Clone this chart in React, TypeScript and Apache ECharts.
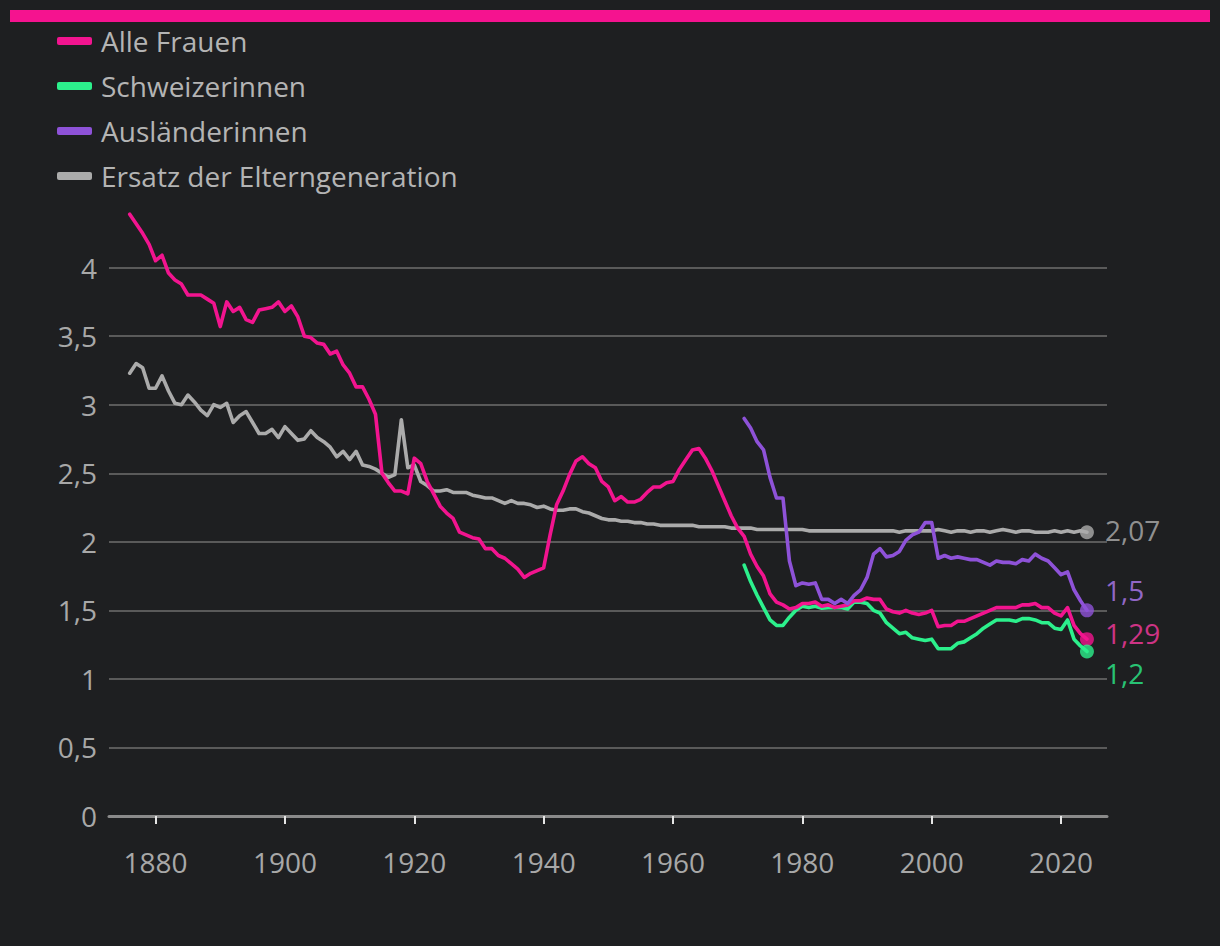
import React, { useEffect, useRef } from "react";
import * as echarts from "echarts";

const START_ALL = 1876;
const START_NAT = 1971;

const alleFrauen = [
  4.39, 4.32, 4.25, 4.17, 4.05, 4.09, 3.96, 3.91, 3.88, 3.8,
  3.8, 3.8, 3.77, 3.74, 3.57, 3.75, 3.68, 3.71, 3.62, 3.6,
  3.69, 3.7, 3.71, 3.75, 3.68, 3.72, 3.64, 3.5, 3.49, 3.45,
  3.44, 3.37, 3.39, 3.29, 3.23, 3.13, 3.13, 3.04, 2.93, 2.5,
  2.43, 2.37, 2.37, 2.35, 2.61, 2.57, 2.44, 2.35, 2.26, 2.21,
  2.17, 2.07, 2.05, 2.03, 2.02, 1.95, 1.95, 1.9, 1.88, 1.84,
  1.8, 1.74, 1.77, 1.79, 1.81, 2.05, 2.27, 2.37, 2.49, 2.59,
  2.62, 2.57, 2.54, 2.44, 2.4, 2.3, 2.33, 2.29, 2.29, 2.31,
  2.36, 2.4, 2.4, 2.43, 2.44, 2.53, 2.6, 2.67, 2.68, 2.61,
  2.52, 2.41, 2.3, 2.19, 2.1, 2.04, 1.91, 1.82, 1.75, 1.62,
  1.56, 1.54, 1.51, 1.52, 1.55, 1.55, 1.56, 1.53, 1.54, 1.52,
  1.53, 1.54, 1.57, 1.57, 1.59, 1.58, 1.58, 1.51, 1.49, 1.48,
  1.5, 1.48, 1.47, 1.48, 1.5, 1.38, 1.39, 1.39, 1.42, 1.42,
  1.44, 1.46, 1.48, 1.5, 1.52, 1.52, 1.52, 1.52, 1.54, 1.54,
  1.55, 1.52, 1.52, 1.48, 1.46, 1.52, 1.39, 1.33, 1.29,
];

const ersatzElterngeneration = [
  3.23, 3.3, 3.27, 3.12, 3.12, 3.21, 3.1, 3.01, 3.0, 3.07,
  3.02, 2.96, 2.92, 3.0, 2.98, 3.01, 2.87, 2.92, 2.95, 2.87,
  2.79, 2.79, 2.82, 2.76, 2.84, 2.79, 2.74, 2.75, 2.81, 2.76,
  2.73, 2.69, 2.62, 2.66, 2.6, 2.66, 2.56, 2.55, 2.53, 2.5,
  2.47, 2.49, 2.89, 2.54, 2.56, 2.44, 2.41, 2.37, 2.37, 2.38,
  2.36, 2.36, 2.36, 2.34, 2.33, 2.32, 2.32, 2.3, 2.28, 2.3,
  2.28, 2.28, 2.27, 2.25, 2.26, 2.24, 2.23, 2.23, 2.24, 2.24,
  2.22, 2.21, 2.19, 2.17, 2.16, 2.16, 2.15, 2.15, 2.14, 2.14,
  2.13, 2.13, 2.12, 2.12, 2.12, 2.12, 2.12, 2.12, 2.11, 2.11,
  2.11, 2.11, 2.11, 2.1, 2.1, 2.1, 2.1, 2.09, 2.09, 2.09,
  2.09, 2.09, 2.09, 2.09, 2.09, 2.08, 2.08, 2.08, 2.08, 2.08,
  2.08, 2.08, 2.08, 2.08, 2.08, 2.08, 2.08, 2.08, 2.08, 2.07,
  2.08, 2.08, 2.08, 2.08, 2.08, 2.09, 2.08, 2.07, 2.08, 2.08,
  2.07, 2.08, 2.08, 2.07, 2.08, 2.09, 2.08, 2.07, 2.08, 2.08,
  2.07, 2.07, 2.07, 2.08, 2.07, 2.08, 2.07, 2.08, 2.07,
];

const schweizerinnen = [
  1.83, 1.71, 1.61, 1.52, 1.43, 1.39, 1.39, 1.45, 1.5, 1.53,
  1.52, 1.53, 1.515, 1.52, 1.52, 1.52, 1.51, 1.56, 1.56, 1.55,
  1.5, 1.48, 1.41, 1.37, 1.33, 1.34, 1.3, 1.29, 1.28, 1.29,
  1.22, 1.22, 1.22, 1.26, 1.27, 1.3, 1.33, 1.37, 1.4, 1.43,
  1.43, 1.43, 1.42, 1.44, 1.44, 1.43, 1.41, 1.41, 1.37, 1.36,
  1.43, 1.29, 1.24, 1.2,
];

const auslaenderinnen = [
  2.9, 2.83, 2.73, 2.67, 2.47, 2.32, 2.32, 1.86, 1.68, 1.7,
  1.69, 1.7, 1.58, 1.58, 1.55, 1.58, 1.55, 1.61, 1.65, 1.74,
  1.91, 1.95, 1.89, 1.9, 1.93, 2.01, 2.05, 2.07, 2.14, 2.14,
  1.88, 1.9, 1.88, 1.89, 1.88, 1.87, 1.87, 1.85, 1.83, 1.86,
  1.85, 1.85, 1.84, 1.87, 1.86, 1.91, 1.88, 1.86, 1.81, 1.76,
  1.78, 1.65, 1.57, 1.5,
];

const xTicks = [1880, 1900, 1920, 1940, 1960, 1980, 2000, 2020];

const NAMES = ["Alle Frauen", "Schweizerinnen", "Ausländerinnen", "Ersatz der Elterngeneration"];
const COLORS = {
  pink: "#f2148f",
  green: "#2cf08c",
  purple: "#8e52d8",
  gray: "#ababab",
};
const LABEL_COLORS = {
  pink: "#ff3aa2",
  green: "#2cf08c",
  purple: "#b27cf4",
  gray: "#b0b0b0",
};

const FONT = "'Open Sans', 'Noto Sans', sans-serif";
const FS = 28;
const fmt = (v: number) => String(v).replace(".", ",");

const toPairs = (start: number, arr: number[]) => arr.map((v, i) => [start + i, v]);

export default function App() {
  const ref = useRef<HTMLDivElement>(null);

  useEffect(() => {
    document.body.style.margin = "0";
    document.body.style.background = "#1e1f21";
    if (!ref.current) return;
    const chart = echarts.init(ref.current, null, { renderer: "svg" });

    const last = (arr: number[]) => arr[arr.length - 1];
    const endYear = START_ALL + alleFrauen.length - 1;

    const lineSeries = (name: string, color: string, data: number[][], z: number) => ({
      name,
      type: "line",
      data,
      showSymbol: false,
      clip: false,
      color,
      z,
      lineStyle: { color, width: 3.6, join: "round", cap: "round" },
      emphasis: { disabled: true },
    });

    const endPoint = (value: number, year: number, color: string, labelColor: string, dy: number) => ({
      value: [year, value],
      itemStyle: { color },
      label: { color: labelColor, offset: [0, dy] },
    });

    chart.setOption({
      animation: false,
      backgroundColor: "#1e1f21",
      textStyle: { fontFamily: FONT },
      graphic: [
        {
          type: "rect",
          shape: { x: 10, y: 10, width: 1200, height: 12 },
          style: { fill: "#f5138f" },
        },
      ],
      legend: {
        orient: "vertical",
        left: 52,
        top: 22,
        itemWidth: 35,
        itemHeight: 8,
        itemGap: 17,
        icon: "roundRect",
        selectedMode: false,
        itemStyle: { borderWidth: 0 },
        textStyle: {
          color: "#b4b4b4",
          fontSize: FS,
          fontFamily: FONT,
          lineHeight: 28,
          padding: [0, 0, 0, 4],
        },
        data: NAMES,
      },
      grid: { left: 109, right: 113, top: 267.6, bottom: 130 },
      xAxis: {
        type: "value",
        min: 1872.8,
        max: 2027.1,
        splitLine: { show: false },
        axisLine: { show: true, lineStyle: { color: "#8a8a8a", width: 3 } },
        axisTick: {
          show: true,
          customValues: xTicks,
          length: 8,
          lineStyle: { color: "#e6e6e6", width: 2 },
        },
        axisLabel: {
          customValues: xTicks,
          color: "#a8a8a8",
          fontSize: FS,
          fontFamily: FONT,
          margin: 32,
          formatter: (v: number) => String(v),
        },
      },
      yAxis: {
        type: "value",
        min: 0,
        max: 4,
        interval: 0.5,
        axisLine: { show: false },
        axisTick: { show: false },
        splitLine: { lineStyle: { color: "#5a5a5a", width: 2 } },
        axisLabel: {
          color: "#a8a8a8",
          fontSize: FS,
          fontFamily: FONT,
          margin: 12,
          formatter: (v: number) => fmt(v),
        },
      },
      series: [
        lineSeries(NAMES[3], COLORS.gray, toPairs(START_ALL, ersatzElterngeneration), 2),
        lineSeries(NAMES[1], COLORS.green, toPairs(START_NAT, schweizerinnen), 3),
        lineSeries(NAMES[0], COLORS.pink, toPairs(START_ALL, alleFrauen), 4),
        lineSeries(NAMES[2], COLORS.purple, toPairs(START_NAT, auslaenderinnen), 5),
        {
          type: "scatter",
          symbol: "circle",
          symbolSize: 14,
          clip: false,
          z: 10,
          emphasis: { disabled: true },
          label: {
            show: true,
            position: "right",
            distance: 11,
            fontSize: FS,
            fontFamily: FONT,
            formatter: (p: any) => fmt(p.value[1]),
          },
          data: [
            endPoint(last(ersatzElterngeneration), endYear, COLORS.gray, LABEL_COLORS.gray, -2),
            endPoint(last(auslaenderinnen), endYear, COLORS.purple, LABEL_COLORS.purple, -20),
            endPoint(last(alleFrauen), endYear, COLORS.pink, LABEL_COLORS.pink, -6),
            endPoint(last(schweizerinnen), endYear, COLORS.green, LABEL_COLORS.green, 22),
          ],
        },
      ],
    });

    return () => chart.dispose();
  }, []);

  return <div ref={ref} style={{ width: 1220, height: 946 }} />;
}
